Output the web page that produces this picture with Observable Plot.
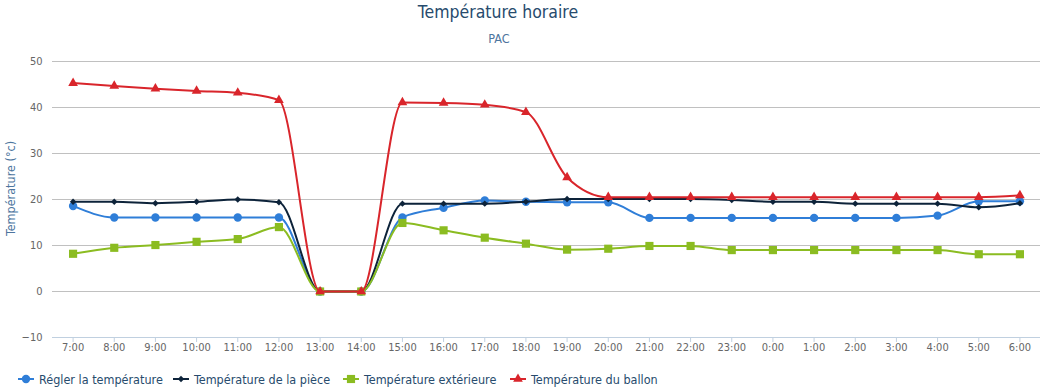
<!DOCTYPE html>
<html><head><meta charset="utf-8">
<script src="https://cdn.jsdelivr.net/npm/d3@7"></script>
<script src="https://cdn.jsdelivr.net/npm/@observablehq/plot@0.6"></script>
<style>
body{margin:0;background:#fff;}
#wrap{position:relative;width:1043px;height:390px;font-family:"DejaVu Sans Condensed","DejaVu Sans",sans-serif;}
#title{position:absolute;left:0;width:996px;top:1px;text-align:center;font-size:17.5px;line-height:22px;color:#274b6d;}
#subtitle{position:absolute;left:0;width:998px;top:31px;text-align:center;font-size:12.5px;line-height:16px;color:#4d759e;}
#chart{position:absolute;left:0;top:0;}
.leg{position:absolute;top:371px;height:16px;display:flex;align-items:center;font-size:12.5px;color:#274b6d;white-space:nowrap;}
.leg svg{margin-right:5px;}
</style></head>
<body><div id="wrap">
<div id="chart"></div>
<div id="title">Température horaire</div>
<div id="subtitle">PAC</div>
<div id="legend"></div>
</div>
<script>
const hours = ["7:00","8:00","9:00","10:00","11:00","12:00","13:00","14:00","15:00","16:00","17:00","18:00","19:00","20:00","21:00","22:00","23:00","0:00","1:00","2:00","3:00","4:00","5:00","6:00"];
const reglage    = [18.6,16.1,16.1,16.1,16.1,16.1, 0,0, 16.1,18.2,19.8,19.5,19.4,19.4, 16,16,16,16,16,16,16, 16.5,19.6,19.6];
const piece      = [19.5,19.5,19.2,19.5,20.0,19.4, 0,0, 19.1,19.1,19.1,19.5,20.1,20.1, 20.1,20.1,19.9,19.5,19.5,19.1,19.1, 19.1,18.3,19.2];
const exterieure = [8.2,9.5,10.1,10.8,11.4,14.0, 0,0, 14.9,13.3,11.7,10.4,9.1,9.3, 9.9,9.9,9.0,9.0,9.0,9.0,9.0, 9.0,8.1,8.1];
const ballon     = [45.3,44.7,44.1,43.6,43.2,41.6, 0,0, 41.1,41.0,40.6,39.0,24.8,20.5, 20.5,20.5,20.5,20.5,20.5,20.5,20.5, 20.5,20.5,20.9];
const seriesNames = ["Régler la température","Température de la pièce","Température extérieure","Température du ballon"];
const yTicks = [-10,0,10,20,30,40,50];

const styles = [
  {color:"#2f7ed8", symbol:"circle", r:4.2},
  {color:"#0d233a", symbol:"diamond2", r:2.9},
  {color:"#8bbc21", symbol:"square", r:4.6},
  {color:"#d9252b", symbol:"triangle", r:3.6}
];
const allValues = [reglage, piece, exterieure, ballon];
const series = allValues.map((vals, i) => ({name: seriesNames[i], ...styles[i], data: hours.map((h, j) => ({h, v: vals[j]}))}));

const marks = [
  Plot.gridY(yTicks.filter(t => t > -10), {stroke:"#C0C0C0", strokeOpacity:1}),
  Plot.ruleY([-10], {stroke:"#C0D0E0"}),
  Plot.axisY({ticks: yTicks, tickSize:0, tickPadding:10, fill:"#666", fontSize:11, label:null, tickFormat: d => d < 0 ? "\u2212" + Math.abs(d) : String(d)}),
  Plot.axisX({tickSize:5, stroke:"#C0D0E0", tickPadding:1, fill:"#666", fontSize:11, label:null}),
  Plot.text(["Température (°c)"], {frameAnchor:"left", textAnchor:"middle", rotate:-90, dx:-42, dy:-11, fill:"#4d759e", fontSize:12.5})
];
for (const s of series) {
  marks.push(Plot.line(s.data, {x:"h", y:"v", stroke:s.color, strokeWidth:2, curve:"monotone-x"}));
  marks.push(Plot.dot(s.data, {x:"h", y:"v", symbol:s.symbol, r:s.r, fill:s.color, stroke:"none"}));
}

const chart = Plot.plot({
  width:1043, height:390,
  marginLeft:52, marginRight:3, marginTop:61, marginBottom:53,
  style:{fontFamily:'"DejaVu Sans Condensed","DejaVu Sans",sans-serif', fontSize:"11px", background:"transparent", overflow:"visible"},
  x:{type:"point", domain:hours, padding:0.5, round:false, label:null},
  y:{domain:[-10,50], label:null},
  marks
});
document.getElementById("chart").appendChild(chart);

// legend
const legX = [18, 173, 343, 510];
const legend = document.getElementById("legend");
series.forEach((s, i) => {
  const item = document.createElement("div");
  item.className = "leg";
  item.style.left = legX[i] + "px";
  const svg = d3.create("svg").attr("width", 16).attr("height", 16);
  svg.append("line").attr("x1",0).attr("x2",16).attr("y1",8).attr("y2",8).attr("stroke", s.color).attr("stroke-width",2);
  const sym = {circle:d3.symbolCircle, diamond2:d3.symbolDiamond2, square:d3.symbolSquare, triangle:d3.symbolTriangle}[s.symbol];
  svg.append("path").attr("transform","translate(8,8)").attr("d", d3.symbol(sym, Math.PI * s.r * s.r)()).attr("fill", s.color);
  item.appendChild(svg.node());
  const span = document.createElement("span");
  span.textContent = s.name;
  item.appendChild(span);
  legend.appendChild(item);
});
</script>
</body></html>
